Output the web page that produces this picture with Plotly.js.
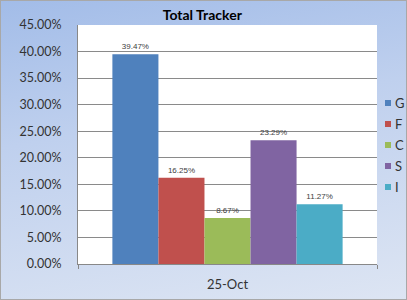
<!DOCTYPE html>
<html><head><meta charset="utf-8">
<script src="https://cdn.plot.ly/plotly-3.0.1.min.js"></script>
<style>
html,body{margin:0;padding:0;}
body{width:407px;height:300px;overflow:hidden;position:relative;background:linear-gradient(170deg,#a2bce8 0%,#bfd0ee 40%,#dde5f3 100%);}
#chart{width:407px;height:300px;}
#frame{position:absolute;left:0;top:0;width:405px;height:298px;border:1px solid #a8a8a8;pointer-events:none;}
</style></head>
<body><div id="chart"></div><div id="frame"></div>
<script>
const category = ['25-Oct'];
const seriesNames = ['G','F','C','S','I'];
const seriesValues = [0.3947, 0.1625, 0.0867, 0.2329, 0.1127];
const seriesColors = ['#4F81BD','#C0504D','#9BBB59','#8064A2','#4BACC6'];
const yTicks = [0,0.05,0.10,0.15,0.20,0.25,0.30,0.35,0.40,0.45];

const W=407, H=300, M={l:78,r:30,t:25,b:36};
const pw=W-M.l-M.r, ph=H-M.t-M.b;
const px2x = p => (p-M.l)/pw;
const py2y = p => (H-M.b-p)/ph;
const FONT = 'Lato, Open Sans, Liberation Sans, Arial';

const traces = seriesNames.map((n,i)=>({
  type:'bar', name:n, x:category, y:[seriesValues[i]],
  marker:{color:seriesColors[i]},
  text:[(seriesValues[i]*100).toFixed(2)+'%'],
  textposition:'outside', cliponaxis:false,
  textfont:{size:8,color:'#404040',family:'Liberation Sans, Arial'},
  hoverinfo:'none', showlegend:false
}));

// legend drawn as shapes + annotations (layout styling)
const shapes=[], annotations=[];
seriesNames.forEach((n,i)=>{
  const cy = 103 + i*21;
  shapes.push({type:'rect',xref:'paper',yref:'paper',
    x0:px2x(385),x1:px2x(391),y0:py2y(cy+3),y1:py2y(cy-3),
    fillcolor:seriesColors[i],line:{width:0}});
  annotations.push({xref:'paper',yref:'paper',x:px2x(393),y:py2y(cy),
    xanchor:'left',yanchor:'middle',text:n,showarrow:false,
    font:{size:13,color:'#333333',family:FONT}});
});

Plotly.newPlot('chart', traces, {
  width:W, height:H,
  margin:{l:M.l,r:M.r,t:M.t,b:M.b,pad:0},
  paper_bgcolor:'rgba(0,0,0,0)', plot_bgcolor:'#ffffff',
  title:{text:'<b>Total Tracker</b>', x:0.497, xanchor:'center', y:0.95, yanchor:'middle',
    font:{size:14,color:'#000000',family:FONT}},
  barmode:'group', bargap:0.23, bargroupgap:0,
  font:{family:FONT,color:'#333333'},
  xaxis:{showline:true,linecolor:'#888888',ticks:'outside',tickson:'boundaries',ticklen:4,tickcolor:'#888888',
    ticklabelstandoff:8,tickfont:{size:13,color:'#333333'},showgrid:false,fixedrange:true},
  yaxis:{range:[0,0.45],tickvals:yTicks,tickformat:'.2%',showline:true,linecolor:'#888888',
    gridcolor:'#8a8a8a',gridwidth:1,ticks:'',ticklabelstandoff:13,tickfont:{size:12.5,color:'#333333'},zeroline:false},
  showlegend:false,
  shapes:shapes, annotations:annotations
},{staticPlot:true});
</script></body></html>
